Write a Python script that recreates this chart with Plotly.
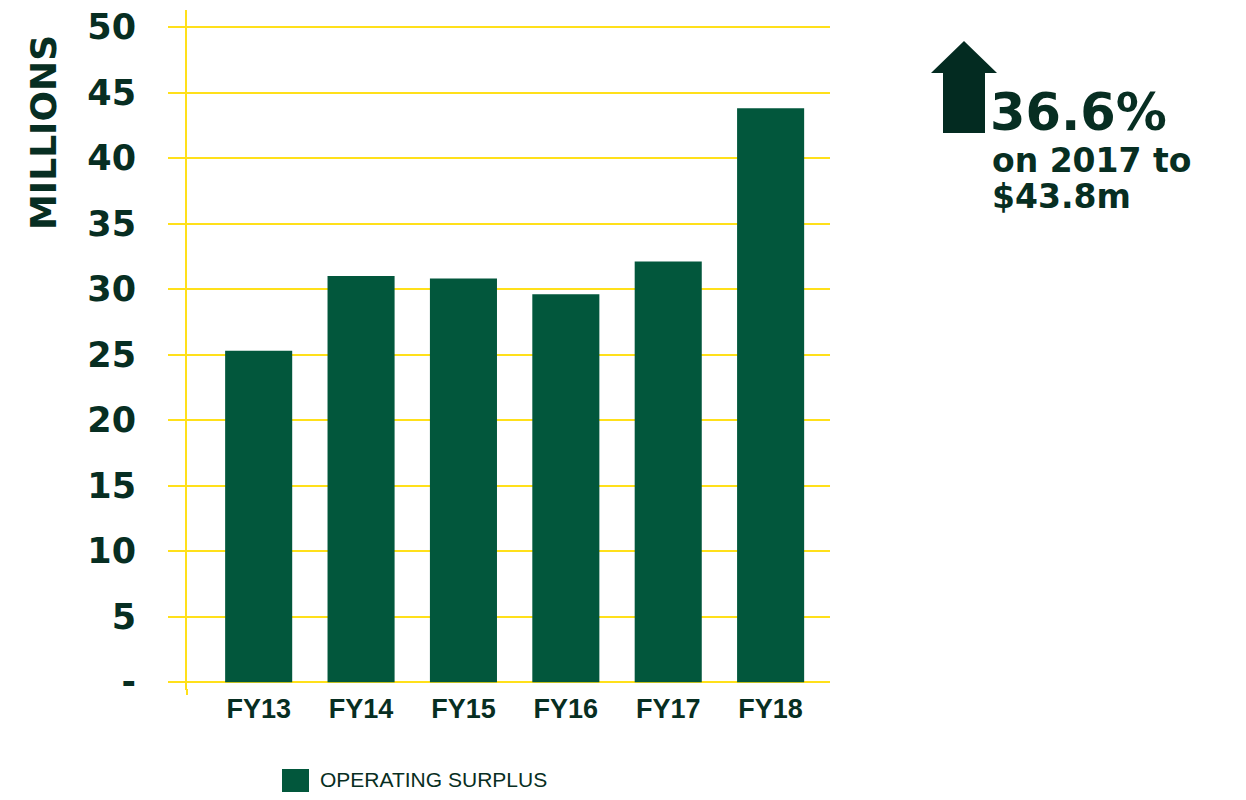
import plotly.graph_objects as go

categories = ["FY13", "FY14", "FY15", "FY16", "FY17", "FY18"]
operating_surplus = [25.3, 31.0, 30.8, 29.6, 32.1, 43.8]
y_tick_values = [0, 5, 10, 15, 20, 25, 30, 35, 40, 45, 50]
y_tick_labels = ["-", "5", "10", "15", "20", "25", "30", "35", "40", "45", "50"]
series_name = "OPERATING SURPLUS"
headline = "36.6%"
subline_1 = "on 2017 to"
subline_2 = "$43.8m"

BAR = "#02573C"
TEXT = "#072E22"
ARROW = "#032B21"
GRID = "#FFE01A"

OFF = 8  # page body margin
W, H = 1246 - 2 * OFF, 800 - 2 * OFF
L, R, T, B = 187, 830, 10, 690  # target page pixels


def px(x):
    return (x - L) / (R - L)


def py(y):
    return (B - y) / (B - T)


fig = go.Figure()
fig.add_trace(go.Bar(x=categories, y=operating_surplus, name=series_name,
                     marker=dict(color=BAR, line=dict(width=0)),
                     showlegend=False))

fig.update_layout(
    width=W, height=H,
    margin=dict(l=L - OFF, r=(W + OFF) - R, t=T - OFF, b=(H + OFF) - B, autoexpand=False),
    plot_bgcolor="white", paper_bgcolor="white",
    bargap=0.345,
    xaxis=dict(range=[-0.7, 5.58], showgrid=False, showline=False, zeroline=False,
               ticks="", ticklabelstandoff=0,
               tickfont=dict(family="Liberation Sans", size=27, color=TEXT, weight="bold")),
    yaxis=dict(range=[-0.6, 51.3], tickvals=y_tick_values, ticktext=y_tick_labels,
               showgrid=True, gridcolor=GRID, gridwidth=2, zeroline=False,
               showline=True, linecolor=GRID, linewidth=2,
               ticks="outside", ticklen=17, tickwidth=2, tickcolor=GRID,
               ticklabelstandoff=25, ticklabeloverflow="allow",
               tickfont=dict(family="DejaVu Sans", size=35, color=TEXT, weight="bold")),
)

# extension of the vertical axis line below the plot area
fig.add_shape(type="line", xref="paper", yref="paper", x0=0, x1=0, y0=py(689), y1=py(695),
              line=dict(color=GRID, width=2))

# Y-axis title
fig.add_annotation(text="MILLIONS", xref="paper", yref="paper", x=px(43), y=py(133),
                   xanchor="center", yanchor="middle",
                   textangle=-90, showarrow=False,
                   font=dict(family="DejaVu Sans", size=36, color=TEXT, weight="bold"))

# Legend (manual)
fig.add_shape(type="rect", xref="paper", yref="paper",
              x0=px(282), x1=px(309), y0=py(792), y1=py(769),
              fillcolor=BAR, line=dict(width=0))
fig.add_annotation(text=series_name, xref="paper", yref="paper", x=px(318), y=py(779),
                   xanchor="left", yanchor="middle", showarrow=False,
                   font=dict(family="Liberation Sans", size=21, color=TEXT))

# Up arrow
pts = [(943, 133), (943, 73), (931, 73), (964, 41), (997, 73), (985, 73), (985, 133)]
path = "M " + " L ".join(f"{px(x)},{py(y)}" for x, y in pts) + " Z"
fig.add_shape(type="path", xref="paper", yref="paper", path=path,
              fillcolor=ARROW, line=dict(width=0))

fig.add_annotation(text=headline, xref="paper", yref="paper", x=px(988), y=py(112),
                   xanchor="left", yanchor="middle", showarrow=False,
                   font=dict(family="DejaVu Sans", size=51, color=TEXT, weight="bold"))
fig.add_annotation(text=subline_1, xref="paper", yref="paper", x=px(990), y=py(160),
                   xanchor="left", yanchor="middle", showarrow=False,
                   font=dict(family="DejaVu Sans", size=33, color=TEXT, weight="bold"))
fig.add_annotation(text=subline_2, xref="paper", yref="paper", x=px(990), y=py(196),
                   xanchor="left", yanchor="middle", showarrow=False,
                   font=dict(family="DejaVu Sans", size=33, color=TEXT, weight="bold"))

fig.write_html("out.html")
